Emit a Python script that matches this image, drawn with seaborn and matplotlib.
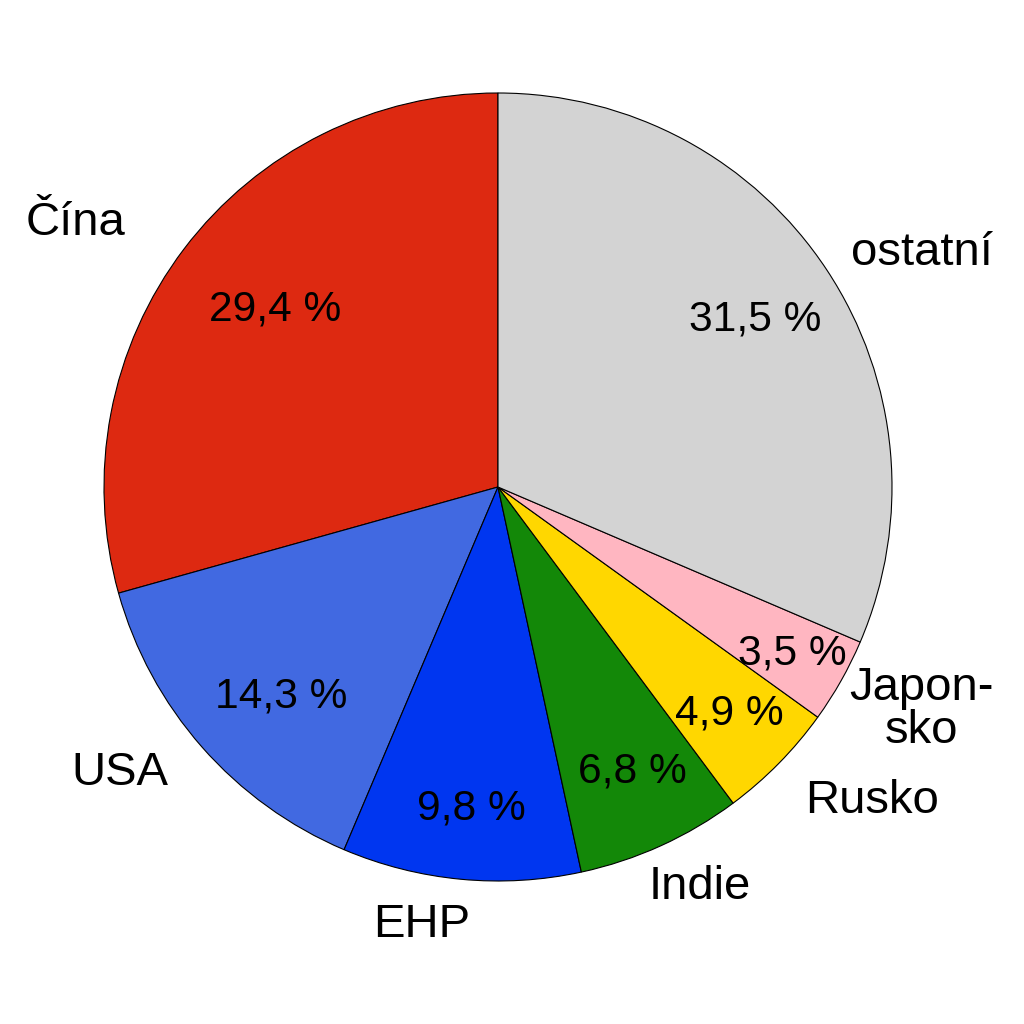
import numpy as np
import matplotlib
matplotlib.use('Agg')
import matplotlib.pyplot as plt
import seaborn as sns

# --- data ---
countries = ['Čína', 'USA', 'EHP', 'Indie', 'Rusko', 'Japon-\nsko', 'ostatní']
shares = [29.4, 14.3, 9.8, 6.8, 4.9, 3.5, 31.5]
pct_labels = ['29,4 %', '14,3 %', '9,8 %', '6,8 %', '4,9 %', '3,5 %', '31,5 %']
colors = ['#DD2911', '#4169E1', '#0036F0', '#138808', '#FFD700', '#FFB6C1', '#D3D3D3']

# label placement (angle in degrees, distance in radii) - hand tuned like the original
label_polar = [(147.7, 1.27), (216.8, 1.20), (260.0, 1.12), (296.9, 1.13),
               (320.3, 1.235), (332.6, 1.21), (29.2, 1.233)]
pct_polar = [(140.9, 0.729), (223.6, 0.761), (265.3, 0.81), (295.5, 0.79),
             (316.0, 0.815), (331.0, 0.853), (33.6, 0.783)]
y_shift = -0.008  # small nudge down so text centres match

sns.set_theme(style='white')
plt.rcParams['font.family'] = ['Liberation Sans', 'DejaVu Sans']

fig = plt.figure(figsize=(10.24, 10.24), dpi=100)
ax = fig.add_axes([0, 0, 1, 1])

wedges, _ = ax.pie(shares, colors=colors, startangle=90, counterclock=True,
                   radius=1.0, wedgeprops=dict(edgecolor='black', linewidth=0.8))

for name, (ang, d) in zip(countries, label_polar):
    a = np.deg2rad(ang)
    ax.text(d * np.cos(a), d * np.sin(a) + y_shift, name, ha='center', va='center',
            fontsize=34, color='black', linespacing=0.95)

for txt, (ang, d) in zip(pct_labels, pct_polar):
    a = np.deg2rad(ang)
    ax.text(d * np.cos(a), d * np.sin(a) + y_shift, txt, ha='center', va='center',
            fontsize=30.6, color='black')

# centre of the pie sits at (498, 487) px, radius 394 px
r_px = 394
ax.set_xlim(-498 / r_px, (1024 - 498) / r_px)
ax.set_ylim(-(1024 - 487) / r_px, 487 / r_px)
ax.set_aspect('equal')
ax.axis('off')

fig.savefig('out.png', dpi=100, facecolor='white')
